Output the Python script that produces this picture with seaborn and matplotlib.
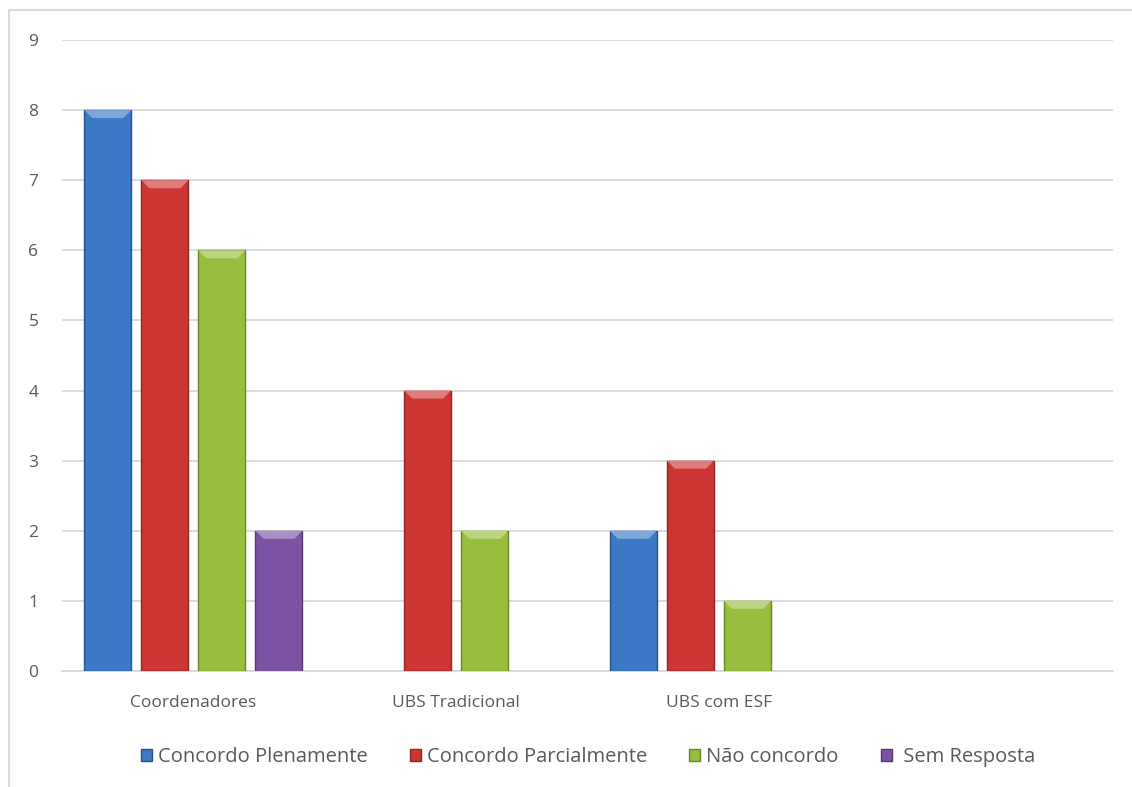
import matplotlib
matplotlib.use("Agg")
import matplotlib.pyplot as plt
import matplotlib.colors as mcolors
from matplotlib.patches import Polygon
from matplotlib.lines import Line2D
import seaborn as sns
import pandas as pd
import numpy as np

# Data
groups = ["Coordenadores", "UBS Tradicional", "UBS com ESF", ""]
series = ["Concordo Plenamente", "Concordo Parcialmente", "Não concordo", " Sem Resposta"]
coordenadores = [8, 7, 6, 2]
ubs_tradicional = [0, 4, 2, 0]
ubs_esf = [2, 3, 1, 0]
colors = ["#3B78C6", "#CD3535", "#97BF3D", "#7B53A3"]

rows = []
for grp, vals in zip(groups[:3], [coordenadores, ubs_tradicional, ubs_esf]):
    for s, v in zip(series, vals):
        if v > 0:
            rows.append({"grupo": grp, "serie": s, "valor": v})
df = pd.DataFrame(rows)

sns.set_style("white")
plt.rcParams["font.family"] = ["Open Sans", "DejaVu Sans"]
text_color = "#595959"
grid_color = "#D9D9D9"

fig = plt.figure(figsize=(11.32, 7.87), dpi=100)
ax = fig.add_axes([62 / 1132, 1 - 671 / 787, (1113 - 62) / 1132, (671 - 40) / 787])

sns.barplot(data=df, x="grupo", y="valor", hue="serie", order=groups,
            hue_order=series, palette=colors, width=0.868, gap=0.175,
            saturation=1, errorbar=None, ax=ax, legend=False, zorder=3)

# darker edge and a lighter bevel at the top of each bar
px_per_unit = (671 - 40) / 9.0
bevel = 8 / px_per_unit
for patch in ax.patches:
    fc = np.array(mcolors.to_rgb(patch.get_facecolor()))
    patch.set_edgecolor(tuple(fc * 0.7))
    patch.set_linewidth(1.0)
    x0 = patch.get_x()
    w = patch.get_width()
    h = patch.get_height()
    if h <= 0:
        continue
    light = tuple(fc + (1 - fc) * 0.35)
    bx = 8 / ((1113 - 62) / 4)
    tri = Polygon([[x0, h], [x0 + w, h], [x0 + w - bx, h - bevel], [x0 + bx, h - bevel]],
                  closed=True, facecolor=light, edgecolor="none", zorder=4)
    ax.add_patch(tri)

ax.set_ylim(0, 9)
ax.set_xlim(-0.5, 3.5)
ax.set_yticks(range(0, 10))
ax.yaxis.grid(True, color=grid_color, linewidth=1.3, zorder=0)
ax.set_axisbelow(True)
for side in ["left", "right", "top"]:
    ax.spines[side].set_visible(False)
ax.spines["bottom"].set_color(grid_color)
ax.spines["bottom"].set_linewidth(1.3)
ax.tick_params(axis="both", length=0, labelsize=12.5, colors=text_color)
ax.tick_params(axis="y", pad=17)
ax.tick_params(axis="x", pad=17)
ax.set_xlabel("")
ax.set_ylabel("")

handles = [plt.Rectangle((0, 0), 1, 1, facecolor=c, edgecolor=tuple(np.array(mcolors.to_rgb(c)) * 0.7))
           for c in colors]
fig.legend(handles, series, loc="center", bbox_to_anchor=(588 / 1132, 1 - 757 / 787),
           ncol=4, frameon=False, fontsize=14.5, labelcolor=text_color,
           handlelength=0.55, handleheight=0.6, handletextpad=0.3, columnspacing=2.1)

# chart frame
fig.add_artist(Line2D([9 / 1132, 1], [1 - 10 / 787, 1 - 10 / 787], color=grid_color, linewidth=1.5))
fig.add_artist(Line2D([9 / 1132, 9 / 1132], [0, 1 - 10 / 787], color=grid_color, linewidth=1.5))

fig.savefig("out.png", dpi=100, facecolor="white")
